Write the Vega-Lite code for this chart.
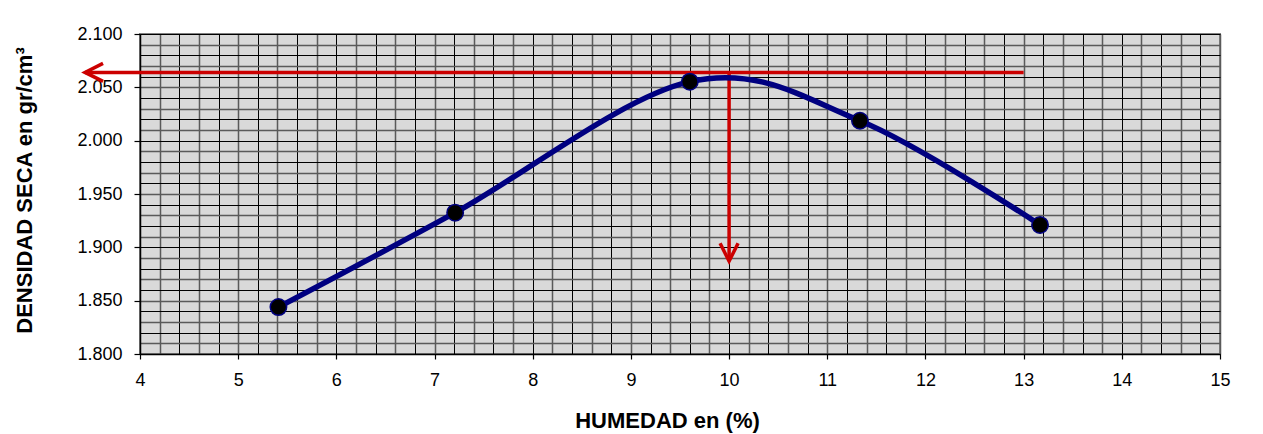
{
  "$schema": "https://vega.github.io/schema/vega-lite/v6.json",
  "width": 1080,
  "height": 320,
  "autosize": {"type": "none"},
  "padding": {"left": 140, "top": 34, "right": 43, "bottom": 80},
  "background": "white",
  "config": {
    "view": {"fill": "#d9d9d9", "stroke": "#808080", "strokeWidth": 2},
    "font": "Liberation Sans"
  },
  "datasets": {
    "ensayo": [
      {"humedad": 5.41, "densidad": 1.844},
      {"humedad": 7.21, "densidad": 1.9325},
      {"humedad": 9.6, "densidad": 2.0553},
      {"humedad": 11.333, "densidad": 2.0187},
      {"humedad": 13.167, "densidad": 1.921}
    ],
    "horizontal": [{"humedad": 3.44, "humedad2": 13, "densidad": 2.064}],
    "vertical": [{"humedad": 10, "densidad": 2.064, "densidad2": 1.887}],
    "flechaIzq": [{"humedad": 3.44, "densidad": 2.064}],
    "flechaAbajo": [{"humedad": 10, "densidad": 1.887}]
  },
  "encoding": {
    "x": {
      "field": "humedad",
      "type": "quantitative",
      "scale": {"domain": [4, 15], "nice": false, "zero": false},
      "axis": {
        "title": "HUMEDAD en (%)",
        "values": [4, 4.2, 4.4, 4.6, 4.8, 5, 5.2, 5.4, 5.6, 5.8, 6, 6.2, 6.4, 6.6, 6.8, 7, 7.2, 7.4, 7.6, 7.8, 8, 8.2, 8.4, 8.6, 8.8, 9, 9.2, 9.4, 9.6, 9.8, 10, 10.2, 10.4, 10.6, 10.8, 11, 11.2, 11.4, 11.6, 11.8, 12, 12.2, 12.4, 12.6, 12.8, 13, 13.2, 13.4, 13.6, 13.8, 14, 14.2, 14.4, 14.6, 14.8, 15],
        "grid": true,
        "gridColor": {"condition": {"test": "round((datum.value-4)*5)%2==0", "value": "#000000"}, "value": "#5a5a5a"},
        "gridWidth": {"condition": {"test": "round((datum.value-4)*5)%2==0", "value": 1}, "value": 1.5},
        "gridOpacity": 1,
        "domainColor": "#000000",
        "domainWidth": 1.5,
        "tickColor": "#000000",
        "tickSize": 5,
        "tickWidth": 1.2,
        "tickOpacity": {"condition": {"test": "abs(datum.value - round(datum.value)) < 0.001", "value": 1}, "value": 0},
        "labelExpr": "abs(datum.value - round(datum.value)) < 0.001 ? format(datum.value, 'd') : ''",
        "labelFontSize": 18,
        "labelColor": "#000000",
        "labelPadding": 12,
        "labelFlush": false,
        "labelOverlap": false,
        "titleFontSize": 22,
        "titleFontWeight": "bold",
        "titleColor": "#000000",
        "titleX": 527,
        "titleY": 73,
        "titleAlign": "center",
        "titleBaseline": "alphabetic"
      }
    },
    "y": {
      "field": "densidad",
      "type": "quantitative",
      "scale": {"domain": [1.8, 2.1], "nice": false, "zero": false},
      "axis": {
        "title": "DENSIDAD SECA en gr/cm³",
        "values": [1.8, 1.81, 1.82, 1.83, 1.84, 1.85, 1.86, 1.87, 1.88, 1.89, 1.9, 1.91, 1.92, 1.93, 1.94, 1.95, 1.96, 1.97, 1.98, 1.99, 2.0, 2.01, 2.02, 2.03, 2.04, 2.05, 2.06, 2.07, 2.08, 2.09, 2.1],
        "grid": true,
        "gridColor": {"condition": {"test": "round(datum.value*100)%2==0", "value": "#000000"}, "value": "#5a5a5a"},
        "gridWidth": {"condition": {"test": "round(datum.value*100)%2==0", "value": 1}, "value": 1.5},
        "gridOpacity": 1,
        "domainColor": "#000000",
        "domainWidth": 1.5,
        "tickColor": "#000000",
        "tickSize": 6,
        "tickWidth": 1.2,
        "tickOpacity": {"condition": {"test": "round(datum.value*100)%5==0", "value": 1}, "value": 0},
        "labelExpr": "round(datum.value*100)%5==0 ? format(datum.value, '.3f') : ''",
        "labelFontSize": 18,
        "labelColor": "#000000",
        "labelPadding": 12,
        "labelFlush": false,
        "labelOverlap": false,
        "titleFontSize": 22,
        "titleFontWeight": "bold",
        "titleColor": "#000000",
        "titleAngle": 270,
        "titleX": -109,
        "titleY": 156,
        "titleAlign": "center",
        "titleBaseline": "alphabetic"
      }
    }
  },
  "layer": [
    {
      "data": {"name": "horizontal"},
      "mark": {"type": "rule", "color": "#cc0000", "strokeWidth": 3.5, "clip": false},
      "encoding": {"x2": {"field": "humedad2"}}
    },
    {
      "data": {"name": "vertical"},
      "mark": {"type": "rule", "color": "#cc0000", "strokeWidth": 3.5, "clip": false},
      "encoding": {"y2": {"field": "densidad2"}}
    },
    {
      "data": {"name": "flechaIzq"},
      "mark": {"type": "point", "shape": "M2,-1L0,0L2,1", "size": 324, "filled": false, "stroke": "#cc0000", "strokeWidth": 3.5, "opacity": 1, "clip": false}
    },
    {
      "data": {"name": "flechaAbajo"},
      "mark": {"type": "point", "shape": "M-1,-2L0,0L1,-2", "size": 324, "filled": false, "stroke": "#cc0000", "strokeWidth": 3.5, "opacity": 1, "clip": false}
    },
    {
      "data": {"name": "ensayo"},
      "mark": {"type": "line", "interpolate": "cardinal", "color": "#000080", "strokeWidth": 5.5}
    },
    {
      "data": {"name": "ensayo"},
      "mark": {"type": "point", "filled": true, "fill": "#000000", "stroke": "#000080", "strokeWidth": 1.5, "size": 270, "opacity": 1}
    }
  ]
}
